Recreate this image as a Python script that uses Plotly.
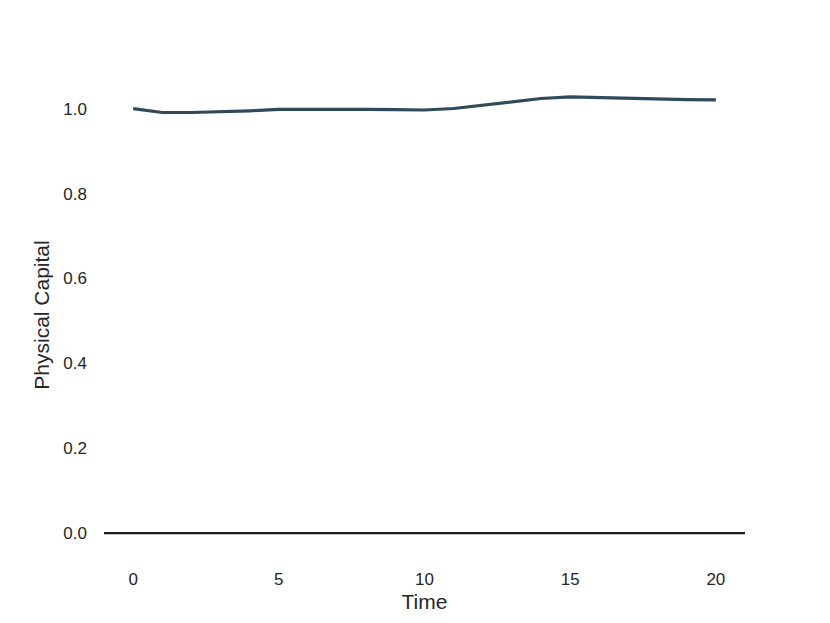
import plotly.graph_objects as go

time = list(range(21))
capital = [1.000, 0.991, 0.991, 0.9925, 0.995, 0.9985, 0.999, 0.999, 0.9985, 0.998, 0.997,
           1.0005, 1.008, 1.016, 1.024, 1.028, 1.0265, 1.025, 1.022, 1.0215, 1.021]
x_ticks = [0, 5, 10, 15, 20]
y_ticks = [0.0, 0.2, 0.4, 0.6, 0.8, 1.0]

fig = go.Figure()
fig.add_trace(go.Scatter(x=time, y=capital, mode="lines",
                         line=dict(color="#2f4a5b", width=3.2), showlegend=False))
fig.add_hline(y=0, line=dict(color="#1a1a1a", width=2.2))

font = "Liberation Sans, Arial, sans-serif"
fig.update_layout(
    width=830, height=623,
    margin=dict(l=96, r=93, t=67, b=76, autoexpand=False),
    plot_bgcolor="white", paper_bgcolor="white",
    font=dict(family=font, size=17, color="#262626"),
)
fig.update_xaxes(range=[-1, 21], tickvals=x_ticks, ticktext=[str(v) for v in x_ticks],
                 showgrid=False, zeroline=False, showline=False, ticks="",
                 ticklabelstandoff=12,
                 title=dict(text="Time", font=dict(size=21, family=font, color="#262626"), standoff=6))
fig.update_yaxes(range=[-0.0514, 1.0794], tickvals=y_ticks, ticktext=[f"{v:.1f}" for v in y_ticks],
                 showgrid=False, zeroline=False, showline=False, ticks="",
                 ticklabelstandoff=16,
                 title=dict(text="Physical Capital", font=dict(size=21, family=font, color="#262626"), standoff=8))

fig.write_html("out.html")
